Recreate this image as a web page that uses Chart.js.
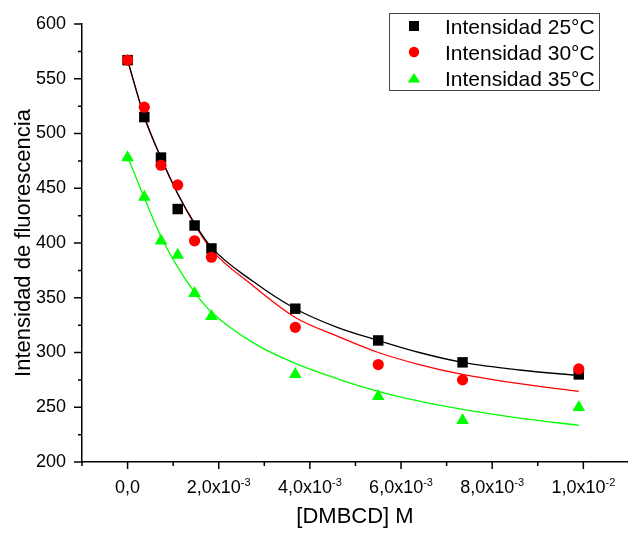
<!DOCTYPE html>
<html>
<head>
<meta charset="utf-8">
<script src="https://cdn.jsdelivr.net/npm/chart.js@4/dist/chart.umd.min.js"></script>
<style>
  html, body { margin: 0; padding: 0; background: #fff; }
  canvas { display: block; }
</style>
</head>
<body>
<canvas id="chart" width="628" height="533"></canvas>
<script>
const FONT = "'Liberation Sans', Arial, sans-serif";

// [DMBCD] in M
const concDMBCD = [0, 0.000367, 0.000733, 0.0011, 0.00147, 0.00184, 0.00368, 0.0055, 0.00735, 0.0099];
const int25 = [567, 515, 478, 431, 416, 395, 340, 311, 291, 280];
const int30 = [567, 524, 471, 453, 402, 387, 323, 289, 275, 285];
const int35 = [478, 442, 402, 389, 354, 333, 280, 260, 238, 250];

// fitted curves
const fitConc = [0, 0.00037, 0.00073, 0.0011, 0.00147, 0.00184, 0.00275, 0.00368, 0.0046, 0.0055, 0.0064, 0.00735, 0.0086, 0.0099];
const fit25 = [567, 515, 478, 445, 418, 396, 365, 340, 323, 311, 300, 291, 284, 279];
const fit30 = [567, 515, 478, 445, 417, 394, 361, 332, 315, 300, 289, 280, 271.5, 264.5];
const fit35 = [479, 441, 406, 378, 355, 337, 309, 290, 276, 264.5, 255.5, 248, 240, 233.5];

const seriesLabels = ["Intensidad 25°C", "Intensidad 30°C", "Intensidad 35°C"];
const seriesColors = ["#000000", "#ff0000", "#00ff00"];
const seriesMarkers = ["rect", "circle", "triangle"];

const xTitle = "[DMBCD] M";
const yTitle = "Intensidad de fluorescencia";

const toPoints = (xs, ys) => xs.map((x, i) => ({ x, y: ys[i] }));

const pointSets = [int25, int30, int35];
const fitSets = [fit25, fit30, fit35];
const markerRadius = { rect: 7.4, circle: 5.6, triangle: 7.3 };

const datasets = [];
pointSets.forEach((vals, i) => {
  datasets.push({
    label: seriesLabels[i],
    data: toPoints(concDMBCD, vals),
    pointStyle: seriesMarkers[i],
    pointRadius: markerRadius[seriesMarkers[i]],
    backgroundColor: seriesColors[i],
    borderColor: seriesColors[i],
    pointBorderWidth: 0,
    order: 2 - i,
  });
});
fitSets.forEach((vals, i) => {
  datasets.push({
    label: "fit " + seriesLabels[i],
    data: toPoints(fitConc, vals),
    showLine: true,
    pointRadius: 0,
    borderColor: seriesColors[i],
    borderWidth: 1.3,
    cubicInterpolationMode: "monotone",
    fill: false,
    order: 5,
  });
});

const isMajorX = (v) => Math.round(v * 1000) % 2 === 0;
const isMajorY = (v) => v % 50 === 0;

function sciParts(v) {
  if (v === 0) return ["0,0", ""];
  const exp = Math.floor(Math.log10(Math.abs(v)) + 1e-9);
  const mant = v / Math.pow(10, exp);
  return [mant.toFixed(1).replace(".", ",") + "x10", String(exp)];
}

// tick marks (long major, short minor) and x labels with superscript
const axisTicks = {
  id: "axisTicks",
  afterDraw(chart) {
    const { ctx, scales: { x, y } } = chart;
    ctx.save();
    ctx.strokeStyle = "#000";
    ctx.lineWidth = 1.5;
    ctx.beginPath();
    x.ticks.forEach((t) => {
      const px = x.getPixelForValue(t.value);
      const len = isMajorX(t.value) ? 7 : 4;
      ctx.moveTo(px, x.top);
      ctx.lineTo(px, x.top + len);
    });
    y.ticks.forEach((t) => {
      const py = y.getPixelForValue(t.value);
      const len = isMajorY(t.value) ? 8 : 4;
      ctx.moveTo(y.right - len, py);
      ctx.lineTo(y.right, py);
    });
    ctx.stroke();

    ctx.fillStyle = "#000";
    ctx.textBaseline = "alphabetic";
    ctx.textAlign = "left";
    x.ticks.forEach((t) => {
      if (!isMajorX(t.value)) return;
      const [main, sup] = sciParts(t.value);
      ctx.font = "18px " + FONT;
      const wMain = ctx.measureText(main).width;
      ctx.font = "11px " + FONT;
      const wSup = sup ? ctx.measureText(sup).width : 0;
      const start = x.getPixelForValue(t.value) - (wMain + wSup) / 2;
      const base = x.top + 31;
      ctx.font = "18px " + FONT;
      ctx.fillText(main, start, base);
      if (sup) {
        ctx.font = "11px " + FONT;
        ctx.fillText(sup, start + wMain, base - 7);
      }
    });
    ctx.restore();
  },
};

function drawMarker(ctx, style, cx, cy, color) {
  ctx.fillStyle = color;
  ctx.beginPath();
  if (style === "rect") {
    ctx.rect(cx - 5, cy - 5, 10, 10);
  } else if (style === "circle") {
    ctx.arc(cx, cy, 5.2, 0, Math.PI * 2);
  } else {
    ctx.moveTo(cx, cy - 5);
    ctx.lineTo(cx + 6.2, cy + 4.5);
    ctx.lineTo(cx - 6.2, cy + 4.5);
    ctx.closePath();
  }
  ctx.fill();
}

// boxed legend in the top right corner
const legendBox = {
  id: "legendBox",
  afterDraw(chart) {
    const { ctx, chartArea } = chart;
    const w = 210, h = 77, rowH = 26;
    const left = chartArea.right - 29 - w;
    const top = 13;
    ctx.save();
    ctx.fillStyle = "#fff";
    ctx.fillRect(left, top, w, h);
    ctx.strokeStyle = "#444";
    ctx.lineWidth = 1;
    ctx.strokeRect(left + 0.5, top + 0.5, w, h);
    seriesLabels.forEach((label, i) => {
      const cy = top + 13 + i * rowH;
      drawMarker(ctx, seriesMarkers[i], left + 25, cy, seriesColors[i]);
      ctx.fillStyle = "#000";
      ctx.font = "21px " + FONT;
      ctx.textBaseline = "alphabetic";
      ctx.textAlign = "left";
      ctx.fillText(label, left + 56, cy + 8);
    });
    ctx.restore();
  },
};

new Chart(document.getElementById("chart"), {
  type: "scatter",
  data: { datasets },
  options: {
    responsive: false,
    animation: false,
    devicePixelRatio: 1,
    layout: { autoPadding: false, padding: { top: 24, right: 0, bottom: 0, left: 0 } },
    plugins: { legend: { display: false }, tooltip: { enabled: false } },
    scales: {
      x: {
        type: "linear",
        min: -0.001,
        max: 0.01098,
        afterFit: (s) => { s.height = 71; },
        grid: { display: false, drawTicks: false },
        border: { display: true, color: "#000", width: 1.5 },
        ticks: { display: false, stepSize: 0.001, includeBounds: false, autoSkip: false },
        title: {
          display: true,
          text: xTitle,
          color: "#000",
          font: { family: FONT, size: 22 },
          padding: { top: 0, bottom: 3 },
        },
      },
      y: {
        type: "linear",
        min: 200,
        max: 600,
        afterFit: (s) => { s.width = 82; },
        // grid lines are hidden; tickLength only reserves room for the drawn tick marks
        grid: { display: false, drawTicks: true, tickLength: 12 },
        border: { display: true, color: "#000", width: 1.5 },
        ticks: {
          stepSize: 25,
          autoSkip: false,
          padding: 4,
          color: "#000",
          font: { family: FONT, size: 18 },
          callback: (v) => (isMajorY(v) ? v : ""),
        },
        title: {
          display: true,
          text: yTitle,
          color: "#000",
          font: { family: FONT, size: 22 },
          padding: { top: 11, bottom: 0 },
        },
      },
    },
  },
  plugins: [axisTicks, legendBox],
});
</script>
</body>
</html>
